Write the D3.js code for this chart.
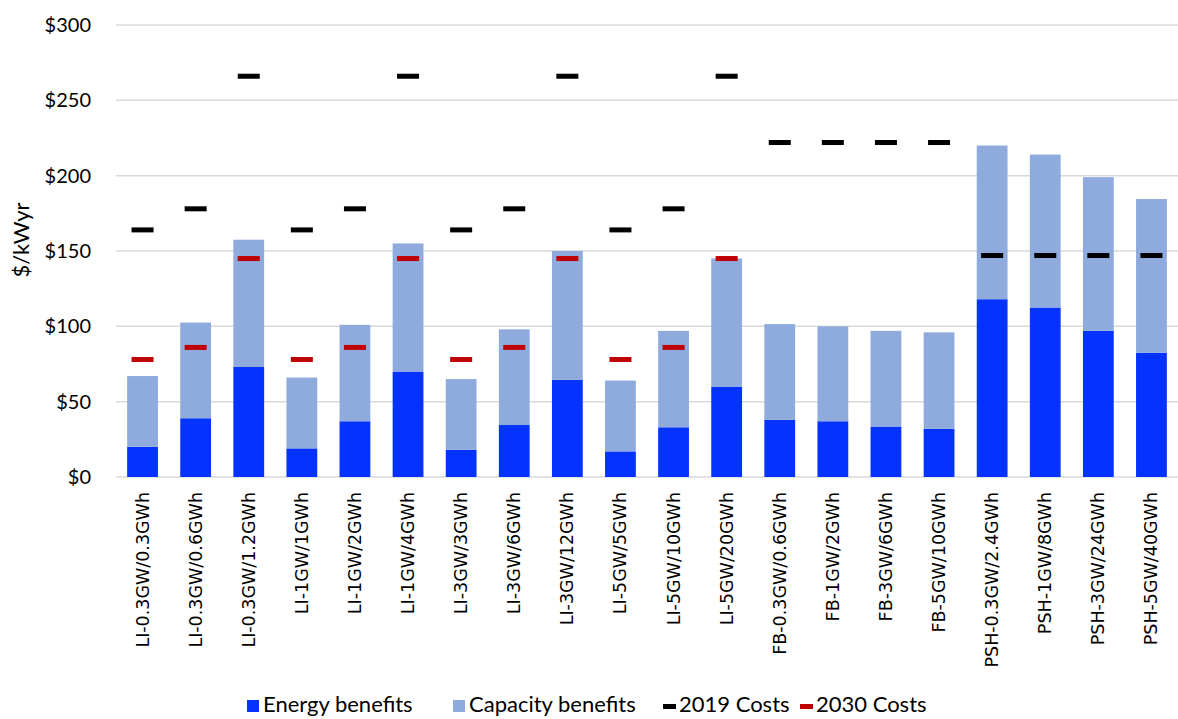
<!DOCTYPE html>
<html>
<head>
<meta charset="utf-8">
<script src="https://cdn.jsdelivr.net/npm/d3@7"></script>
<style>
  body { margin: 0; background: #fff; }
  svg { display: block; }
</style>
</head>
<body>
<svg id="chart" width="1178" height="719"></svg>
<script>
const categories = [
    "LI-0.3GW/0.3GWh", "LI-0.3GW/0.6GWh", "LI-0.3GW/1.2GWh",
    "LI-1GW/1GWh", "LI-1GW/2GWh", "LI-1GW/4GWh",
    "LI-3GW/3GWh", "LI-3GW/6GWh", "LI-3GW/12GWh",
    "LI-5GW/5GWh", "LI-5GW/10GWh", "LI-5GW/20GWh",
    "FB-0.3GW/0.6GWh", "FB-1GW/2GWh", "FB-3GW/6GWh", "FB-5GW/10GWh",
    "PSH-0.3GW/2.4GWh", "PSH-1GW/8GWh", "PSH-3GW/24GWh", "PSH-5GW/40GWh"
];
const energy_benefits = [20, 39, 73, 19, 37, 70, 18, 34.5, 64.5, 17, 33, 60, 38, 37, 33.5, 32, 118, 112.5, 97, 82.5];
const capacity_benefits = [47, 63.5, 84.5, 47, 64, 85, 47, 63.5, 85.5, 47, 64, 85, 63.5, 63, 63.5, 64, 102, 101.5, 102, 102];
const costs_2019 = [164, 178, 266, 164, 178, 266, 164, 178, 266, 164, 178, 266, 222, 222, 222, 222, 147, 147, 147, 147];
const costs_2030 = [78, 86, 145, 78, 86, 145, 78, 86, 145, 78, 86, 145, null, null, null, null, null, null, null, null];
const y_ticks = [0, 50, 100, 150, 200, 250, 300];

const energy_color = "#0433FF";
const capacity_color = "#8FAADC";
const cost2019_color = "#000000";
const cost2030_color = "#C00000";
const label_font = "Lato, 'Open Sans', sans-serif";

const svg = d3.select("#chart");
const plot_left = 116;
const plot_right = 1178;
const plot_top = 25;
const plot_bottom = 477;

const x = d3.scaleBand()
    .domain(categories)
    .range([plot_left, plot_right])
    .paddingInner(0.42)
    .paddingOuter(0.21);

const y = d3.scaleLinear()
    .domain([0, 300])
    .range([plot_bottom, plot_top]);

// gridlines
svg.append("g")
    .selectAll("line")
    .data(y_ticks)
    .join("line")
    .attr("x1", plot_left)
    .attr("x2", plot_right)
    .attr("y1", (d) => y(d))
    .attr("y2", (d) => y(d))
    .attr("stroke", "#d9d9d9")
    .attr("stroke-width", 1.5);

// y axis labels
const yAxis = svg.append("g")
    .attr("transform", `translate(${plot_left - 22},0)`)
    .call(d3.axisLeft(y).tickValues(y_ticks).tickSize(0).tickFormat((d) => "$" + d));
yAxis.select(".domain").remove();
yAxis.selectAll("text")
    .attr("font-family", label_font)
    .attr("font-size", 20)
    .attr("fill", "#000");

svg.append("text")
    .attr("transform", "translate(29,240) rotate(-90)")
    .attr("text-anchor", "middle")
    .attr("font-family", label_font)
    .attr("font-size", 22)
    .attr("fill", "#000")
    .text("$/kWyr");

// stacked bars
const bars = svg.append("g");
bars.selectAll("rect.energy")
    .data(categories)
    .join("rect")
    .attr("class", "energy")
    .attr("x", (d) => x(d))
    .attr("width", x.bandwidth())
    .attr("y", (d, i) => y(energy_benefits[i]))
    .attr("height", (d, i) => y(0) - y(energy_benefits[i]))
    .attr("fill", energy_color);

bars.selectAll("rect.capacity")
    .data(categories)
    .join("rect")
    .attr("class", "capacity")
    .attr("x", (d) => x(d))
    .attr("width", x.bandwidth())
    .attr("y", (d, i) => y(energy_benefits[i] + capacity_benefits[i]))
    .attr("height", (d, i) => y(energy_benefits[i]) - y(energy_benefits[i] + capacity_benefits[i]))
    .attr("fill", capacity_color);

// cost markers
const dash_width = 22;
function drawMarkers(values, color) {
    svg.append("g")
        .selectAll("rect")
        .data(categories.filter((d, i) => values[i] != null))
        .join("rect")
        .attr("x", (d) => x(d) + x.bandwidth() / 2 - dash_width / 2)
        .attr("width", dash_width)
        .attr("y", (d) => y(values[categories.indexOf(d)]) - 2.5)
        .attr("height", 5)
        .attr("fill", color);
}
drawMarkers(costs_2019, cost2019_color);
drawMarkers(costs_2030, cost2030_color);

// category labels
svg.append("g")
    .selectAll("text")
    .data(categories)
    .join("text")
    .attr("transform", (d) => `translate(${x(d) + x.bandwidth() / 2 + 6},${plot_bottom + 15}) rotate(-90)`)
    .attr("text-anchor", "end")
    .attr("font-family", "'DejaVu Sans', sans-serif")
    .attr("font-size", 17.5)
    .attr("fill", "#000")
    .text((d) => d);

// legend
const legend_items = [
    { label: "Energy benefits", color: energy_color, type: "box", x: 247 },
    { label: "Capacity benefits", color: capacity_color, type: "box", x: 453 },
    { label: "2019 Costs", color: cost2019_color, type: "dash", x: 663 },
    { label: "2030 Costs", color: cost2030_color, type: "dash", x: 800 },
];
const legend = svg.append("g");
legend_items.forEach((item) => {
    if (item.type == "box") {
        legend.append("rect")
            .attr("x", item.x)
            .attr("y", 700)
            .attr("width", 12)
            .attr("height", 12)
            .attr("fill", item.color);
    } else {
        legend.append("rect")
            .attr("x", item.x)
            .attr("y", 704)
            .attr("width", 13)
            .attr("height", 5)
            .attr("fill", item.color);
    }
    legend.append("text")
        .attr("x", item.x + 16)
        .attr("y", 712)
        .attr("font-family", label_font)
        .attr("font-size", 22)
        .attr("fill", "#000")
        .text(item.label);
});
</script>
</body>
</html>
